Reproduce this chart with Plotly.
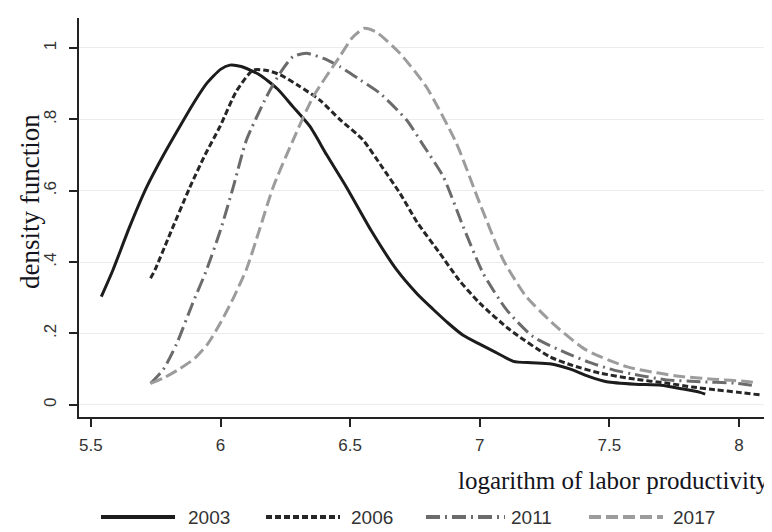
import plotly.graph_objects as go

# ---- data ----
years = ["2003", "2006", "2011", "2017"]

x2003 = [5.54, 5.585, 5.65, 5.715, 5.78, 5.843, 5.90, 5.946, 6.0, 6.036, 6.08, 6.15, 6.22, 6.28,
         6.345, 6.41, 6.486, 6.58, 6.68, 6.76, 6.82, 6.88, 6.936, 7.0, 7.06, 7.13, 7.2, 7.27,
         7.35, 7.42, 7.49, 7.6, 7.7, 7.78, 7.85, 7.87]
y2003 = [0.303, 0.378, 0.50, 0.61, 0.70, 0.78, 0.85, 0.90, 0.94, 0.952, 0.948, 0.925, 0.885, 0.835,
         0.78, 0.70, 0.61, 0.49, 0.378, 0.31, 0.268, 0.228, 0.195, 0.17, 0.148, 0.122, 0.118, 0.115,
         0.10, 0.08, 0.065, 0.058, 0.055, 0.045, 0.035, 0.03]

x2006 = [5.73, 5.747, 5.80, 5.882, 5.94, 5.998, 6.062, 6.126, 6.18, 6.23, 6.30, 6.383, 6.46, 6.55,
         6.62, 6.692, 6.76, 6.846, 6.92, 7.0, 7.117, 7.27, 7.36, 7.464, 7.6, 7.72, 7.82, 7.914,
         8.0, 8.08]
y2006 = [0.355, 0.378, 0.47, 0.61, 0.70, 0.78, 0.88, 0.938, 0.937, 0.925, 0.895, 0.854, 0.80, 0.742,
         0.67, 0.593, 0.51, 0.425, 0.35, 0.285, 0.21, 0.135, 0.11, 0.089, 0.072, 0.061, 0.05, 0.042,
         0.035, 0.028]

x2011 = [5.73, 5.78, 5.83, 5.89, 5.946, 6.0, 6.049, 6.10, 6.178, 6.23, 6.28, 6.332, 6.40, 6.46,
         6.54, 6.615, 6.718, 6.78, 6.859, 6.936, 7.013, 7.104, 7.206, 7.335, 7.42, 7.515, 7.62,
         7.72, 7.85, 7.98, 8.05]
y2011 = [0.06, 0.10, 0.17, 0.28, 0.378, 0.49, 0.61, 0.742, 0.864, 0.93, 0.976, 0.985, 0.97, 0.948,
         0.91, 0.873, 0.798, 0.73, 0.64, 0.50, 0.369, 0.266, 0.191, 0.145, 0.12, 0.098, 0.082,
         0.07, 0.065, 0.061, 0.055]

x2017 = [5.73, 5.78, 5.84, 5.90, 5.95, 6.0, 6.05, 6.10, 6.15, 6.203, 6.28, 6.358, 6.46, 6.51,
         6.555, 6.60, 6.692, 6.795, 6.91, 7.0, 7.091, 7.18, 7.296, 7.41, 7.567, 7.68, 7.785, 7.9,
         8.04, 8.06]
y2017 = [0.06, 0.075, 0.10, 0.13, 0.17, 0.23, 0.30, 0.38, 0.49, 0.61, 0.742, 0.864, 0.976, 1.03,
         1.055, 1.045, 0.985, 0.89, 0.733, 0.565, 0.406, 0.303, 0.219, 0.154, 0.107, 0.09, 0.079,
         0.072, 0.065, 0.062]

x_ticks = [5.5, 6, 6.5, 7, 7.5, 8]
x_tick_labels = ["5.5", "6", "6.5", "7", "7.5", "8"]
y_ticks = [0, 0.2, 0.4, 0.6, 0.8, 1]
y_tick_labels = ["0", ".2", ".4", ".6", ".8", "1"]

x_title = "logarithm of labor productivity"
y_title = "density function"

# ---- styles ----
styles = {
    "2003": dict(color="#1c1c1c", dash="solid", width=3),
    "2006": dict(color="#262626", dash="6px,3px", width=3),
    "2011": dict(color="#6b6b6b", dash="14px,5px,2px,5px", width=3),
    "2017": dict(color="#9c9c9c", dash="12px,5px", width=3),
}
series = {"2003": (x2003, y2003), "2006": (x2006, y2006),
          "2011": (x2011, y2011), "2017": (x2017, y2017)}

# The page body adds an 8px margin; size the figure so it fills the 772x532 window.
OFF = 8
W, H = 772 - OFF, 532 - OFF
L, T = 79 - OFF, 18 - OFF
PLOT_RIGHT, PLOT_BOTTOM = 770 - OFF, 417 - OFF
R, B = W - PLOT_RIGHT, H - PLOT_BOTTOM
pw, ph = W - L - R, H - T - B

def px2paper_x(px):  # px in window coordinates
    return (px - OFF - L) / pw

def px2paper_y(py):
    return (PLOT_BOTTOM - (py - OFF)) / ph

fig = go.Figure()
for yr in years:
    xs, ys = series[yr]
    st = styles[yr]
    fig.add_trace(go.Scatter(x=xs, y=ys, mode="lines", name=yr, showlegend=False,
                             line=dict(color=st["color"], dash=st["dash"], width=st["width"],
                                       shape="spline", smoothing=0.6)))

tickfont = dict(family="Liberation Sans, Arial, sans-serif", size=17, color="#333333")
serif_x = dict(family="Liberation Serif, Times New Roman, serif", size=25, color="#141420")
serif_y = dict(family="Liberation Serif, Times New Roman, serif", size=27, color="#141420")

fig.update_xaxes(range=[5.454, 8.12], tickvals=x_ticks, ticktext=x_tick_labels,
                 showgrid=False, zeroline=False, showline=True, linecolor="#222222",
                 linewidth=1.5, ticks="outside", ticklen=8, tickwidth=1.5, tickcolor="#222222",
                 tickfont=tickfont, ticklabelstandoff=4)
fig.update_yaxes(range=[-0.034, 1.084], tickvals=y_ticks, ticktext=y_tick_labels,
                 showgrid=True, gridcolor="#ececec", gridwidth=1, zeroline=False,
                 showline=True, linecolor="#222222", linewidth=1.5, ticks="outside",
                 ticklen=8, tickwidth=1.5, tickcolor="#222222", tickfont=tickfont,
                 tickangle=-90, ticklabelstandoff=6)

annotations = [
    dict(text=x_title, xref="paper", yref="paper", x=px2paper_x(771), y=px2paper_y(480),
         xanchor="right", yanchor="middle", showarrow=False, font=serif_x),
    dict(text=y_title, xref="paper", yref="paper", x=px2paper_x(30), y=px2paper_y(202),
         xanchor="center", yanchor="middle", textangle=-90, showarrow=False, font=serif_y),
]

# manual legend (window pixel positions)
leg_y = px2paper_y(517)
leg_lines = {"2003": (101, 175, 186), "2006": (266, 340, 349),
             "2011": (426, 505, 509), "2017": (589, 663, 671)}
shapes = []
for yr in years:
    x0, x1, xt = leg_lines[yr]
    st = styles[yr]
    shapes.append(dict(type="line", xref="paper", yref="paper",
                       x0=px2paper_x(x0), x1=px2paper_x(x1), y0=leg_y, y1=leg_y,
                       line=dict(color=st["color"], dash=st["dash"], width=4)))
    annotations.append(dict(text=yr, xref="paper", yref="paper", x=px2paper_x(xt), y=leg_y,
                            xanchor="left", yanchor="middle", showarrow=False,
                            font=dict(family="Liberation Sans, Arial, sans-serif", size=19,
                                      color="#333333")))

fig.update_layout(width=W, height=H, margin=dict(l=L, r=R, t=T, b=B, pad=0),
                  paper_bgcolor="white", plot_bgcolor="white",
                  annotations=annotations, shapes=shapes)

fig.write_html("out.html")
